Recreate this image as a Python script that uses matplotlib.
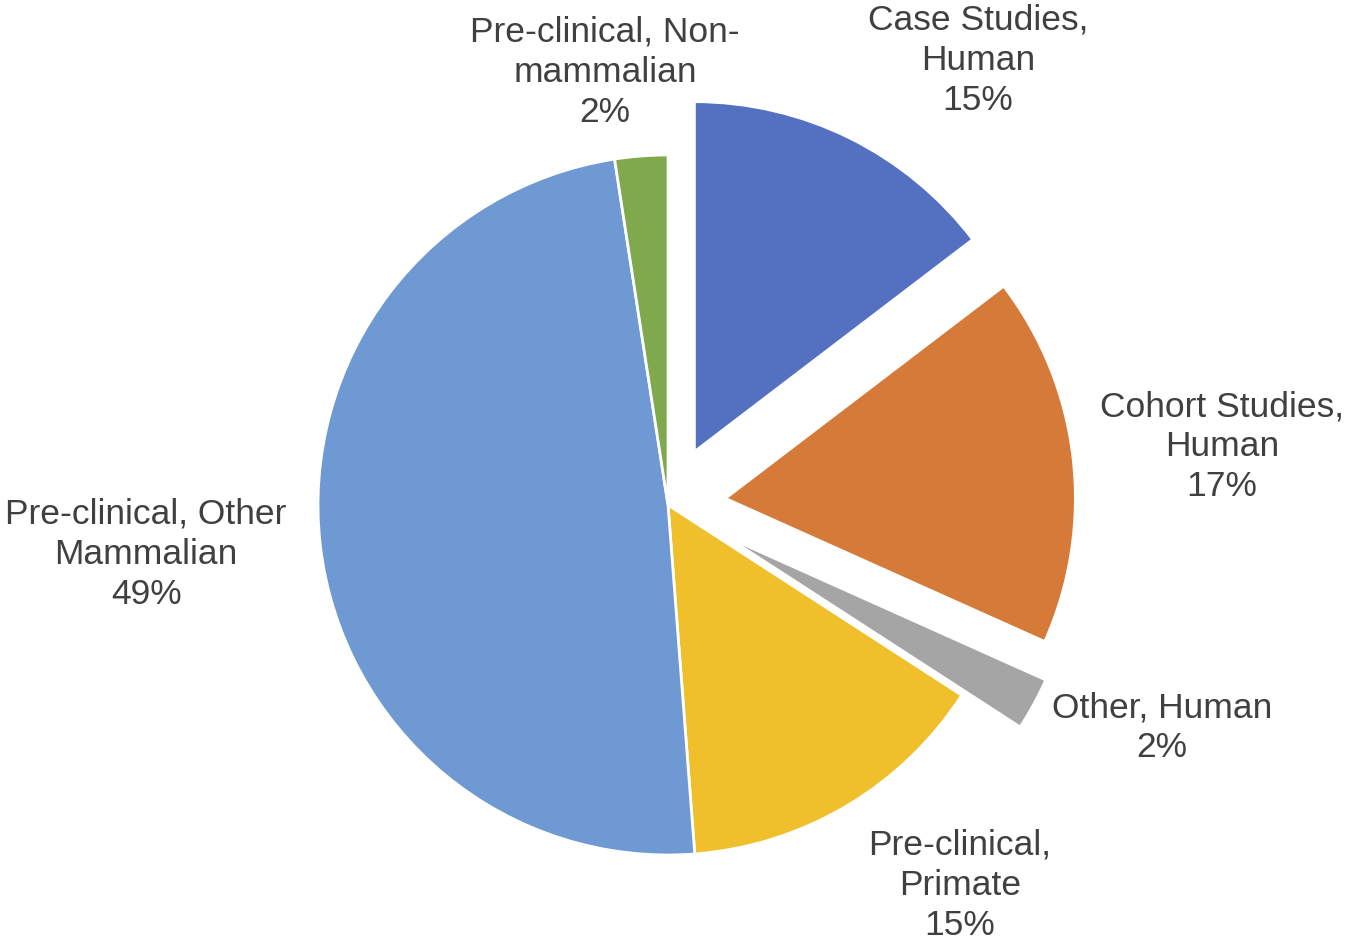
import matplotlib.pyplot as plt

# study counts per category, clockwise from 12 o'clock
categories = ["Case Studies,\nHuman", "Cohort Studies,\nHuman", "Other, Human",
              "Pre-clinical,\nPrimate", "Pre-clinical, Other\nMammalian",
              "Pre-clinical, Non-\nmammalian"]
counts = [6, 7, 1, 6, 20, 1]
colors = ["#5470C0", "#D57A39", "#A5A5A5", "#EFBF2C", "#6F99D2", "#80A84C"]
explode = [0.17, 0.165, 0.19, 0, 0, 0]

# label centres in data units (radius 1)
label_pos = [(0.886, 1.271), (1.583, 0.166), (1.411, -0.637),
             (0.834, -1.086), (-1.491, -0.14), (-0.18, 1.237)]

plt.rcParams["font.family"] = ["Liberation Sans", "DejaVu Sans"]

fig = plt.figure(figsize=(13.5, 9.46), dpi=100)
ax = fig.add_axes([0, 0, 1, 1])

ax.pie(counts, colors=colors, explode=explode, startangle=90, counterclock=False,
       radius=1.0, wedgeprops=dict(edgecolor="white", linewidth=2))

total = sum(counts)
for name, c, (x, y) in zip(categories, counts, label_pos):
    pct = round(c / total * 100)
    ax.text(x, y, f"{name}\n{pct}%", ha="center", va="center", fontsize=25.5,
            color="#404040", linespacing=1.27)

ax.set_aspect("equal")
ax.set_xlim(-668 / 350, (1350 - 668) / 350)
ax.set_ylim(-441 / 350, 505 / 350)
ax.axis("off")

fig.savefig("out.png", dpi=100, facecolor="white")
